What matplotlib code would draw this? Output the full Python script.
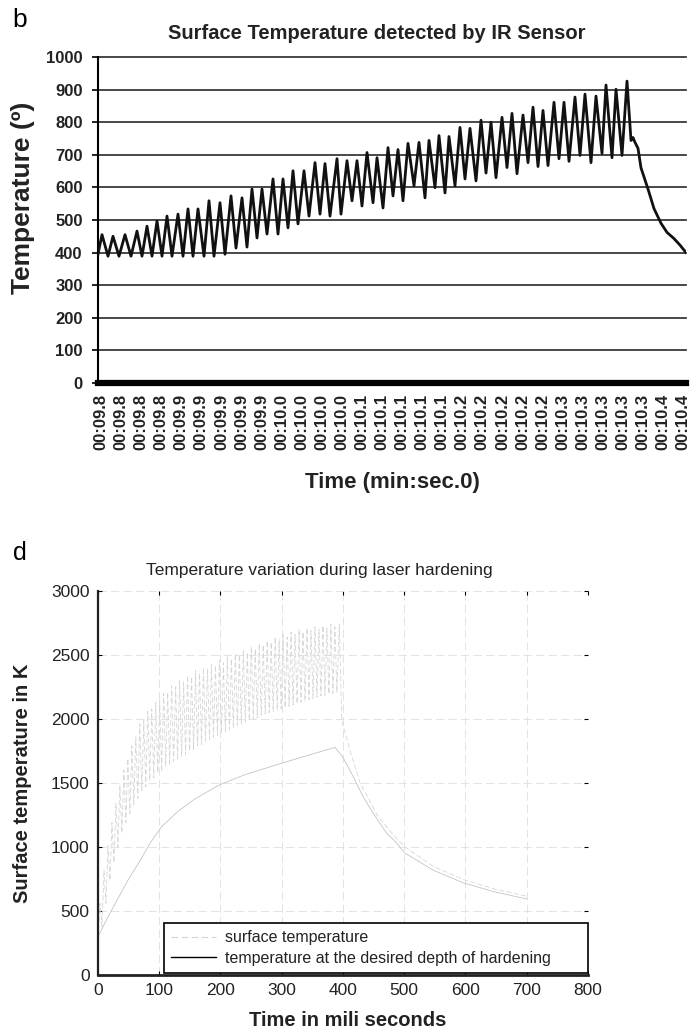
import matplotlib
matplotlib.use('Agg')
import matplotlib.pyplot as plt
import numpy as np
from matplotlib.lines import Line2D

# --- panel b: IR sensor trace (sample index vs temperature) ---
ir_sample = [0, 4, 10, 15, 21, 27, 33, 39, 44, 49, 54, 59, 64, 69, 74, 80, 85, 90, 95,
             100, 106, 111, 116, 122, 127, 133, 138, 144, 149, 154, 159, 164, 169, 175,
             180, 185, 190, 195, 200, 206, 211, 217, 222, 227, 232, 239, 243, 249, 254,
             259, 264, 269, 275, 279, 285, 290, 295, 300, 305, 310, 316, 321, 327, 331,
             337, 341, 347, 351, 357, 362, 367, 372, 378, 383, 388, 393, 398, 404, 409,
             414, 419, 425, 430, 435, 440, 445, 450, 456, 461, 466, 471, 477, 482, 487,
             493, 498, 504, 508, 514, 518, 524, 529, 533, 535, 537, 540, 543, 550, 556,
             563, 569, 576, 582, 588]
ir_temp = [395, 455, 389, 450, 389, 455, 389, 466, 389, 481, 389, 497, 389, 512, 389,
           518, 389, 534, 389, 534, 389, 559, 389, 553, 395, 574, 414, 568, 417, 595,
           445, 595, 457, 626, 457, 626, 476, 651, 488, 651, 512, 676, 518, 673, 512,
           688, 518, 682, 559, 682, 543, 707, 553, 691, 537, 722, 574, 716, 559, 735,
           605, 738, 568, 744, 599, 759, 583, 756, 605, 784, 626, 781, 620, 806, 644,
           800, 630, 815, 661, 827, 642, 822, 676, 846, 664, 836, 667, 861, 688, 861,
           680, 877, 698, 886, 676, 880, 704, 914, 691, 901, 698, 926, 744, 753, 738,
           720, 660, 595, 535, 490, 462, 443, 423, 400]
time_labels = (['00:09.8'] * 4 + ['00:09.9'] * 5 + ['00:10.0'] * 4 + ['00:10.1'] * 5 +
               ['00:10.2'] * 5 + ['00:10.3'] * 5 + ['00:10.4'] * 2)

# --- panel d: simulated laser hardening (ms vs K) ---
pulse_period = 6.5  # ms between laser pulses
surf_peak = [560, 820, 1010, 1190, 1340, 1480, 1600, 1690, 1790, 1860,
             1960, 1990, 2060, 2080, 2130, 2140, 2200, 2210, 2260, 2250,
             2300, 2290, 2340, 2330, 2380, 2360, 2400, 2390, 2430, 2420,
             2460, 2440, 2490, 2470, 2510, 2500, 2540, 2520, 2570, 2550,
             2590, 2580, 2610, 2600, 2640, 2620, 2660, 2640, 2680, 2660,
             2700, 2680, 2710, 2690, 2720, 2700, 2730, 2710, 2740, 2720]
surf_trough = [380, 560, 740, 880, 1000, 1110, 1190, 1260, 1330, 1380,
               1440, 1470, 1520, 1540, 1580, 1590, 1630, 1640, 1670, 1680,
               1710, 1720, 1750, 1760, 1790, 1800, 1830, 1840, 1860, 1870,
               1890, 1900, 1920, 1930, 1950, 1960, 1980, 1990, 2000, 2010,
               2030, 2040, 2050, 2060, 2070, 2080, 2090, 2100, 2110, 2120,
               2130, 2140, 2150, 2160, 2170, 2180, 2185, 2195, 2200, 2210]
surf_cool_t = [394, 398, 411, 428, 457, 485, 501, 547, 597, 649, 700]
surf_cool_v = [2740, 1990, 1760, 1500, 1240, 1080, 1000, 850, 745, 670, 615]

depth_t = [0, 17, 34, 50, 67, 85, 104, 131, 158, 198, 240, 300, 340, 387,
           400, 417, 433, 449, 471, 485, 501, 547, 597, 649, 700]
depth_v = [300, 460, 610, 750, 880, 1030, 1160, 1280, 1375, 1485, 1565, 1655, 1712, 1779,
           1700, 1547, 1391, 1266, 1109, 1045, 953, 820, 719, 648, 594]

plt.rcParams['font.family'] = ['Liberation Sans', 'DejaVu Sans']

W, H = 696, 1032
fig = plt.figure(figsize=(W / 100, H / 100), dpi=100)


def box(l, t, r, b):
    return [l / W, 1 - b / H, (r - l) / W, (b - t) / H]


# ---------------- panel b ----------------
ax1 = fig.add_axes(box(98, 57, 686, 383))
ax1.plot(ir_sample, ir_temp, color='#111111', lw=2.0, solid_joinstyle='round', zorder=3)
ax1.set_xlim(0, 588)
ax1.set_ylim(0, 1000)
ax1.set_yticks(np.arange(0, 1001, 100))
ax1.grid(axis='y', color='#3a3a3a', lw=1.3)
for gl in ax1.get_ygridlines():
    gl.set_clip_on(False)
ax1.set_axisbelow(True)
for s in ['top', 'right']:
    ax1.spines[s].set_visible(False)
ax1.spines['left'].set_linewidth(1.5)
ax1.spines['bottom'].set_linewidth(4.5)
ax1.set_xticks(np.linspace(3, 585, len(time_labels)))
ax1.set_xticklabels(time_labels, rotation=90, fontsize=12, fontweight='bold', color='#222222')
ax1.tick_params(axis='x', length=0, pad=8)
ax1.tick_params(axis='y', direction='out', length=4, width=1.2, pad=7, labelsize=12)
for t in ax1.get_yticklabels():
    t.set_fontweight('bold')
    t.set_color('#222222')

fig.text(12 / W, 1 - 27 / H, 'b', fontsize=19, va='baseline')
fig.text(377 / W, 1 - 33 / H, 'Surface Temperature detected by IR Sensor',
         ha='center', va='center', fontsize=14.5, fontweight='bold', color='#222222')
fig.text(23 / W, 1 - 198 / H, 'Temperature (º)', rotation=90, ha='center', va='center',
         fontsize=19, fontweight='bold', color='#222222')
fig.text(392 / W, 1 - 472 / H, 'Time (min:sec.0)', ha='center', va='top',
         fontsize=16, fontweight='bold', color='#222222')

# ---------------- panel d ----------------
n = len(surf_peak)
peak_t = pulse_period * (np.arange(n) + 0.5)
trough_t = pulse_period * (np.arange(n) + 1)
surf_t = np.concatenate([[0], np.column_stack([peak_t, trough_t]).ravel(), surf_cool_t])
surf_v = np.concatenate([[300], np.column_stack([surf_peak, surf_trough]).ravel(), surf_cool_v])

ax2 = fig.add_axes(box(98, 591, 588, 975))
ax2.plot(surf_t, surf_v, color='#d6d6d6', lw=0.6, ls=(0, (6, 3)))
ax2.plot(depth_t, depth_v, color='#c4c4c4', lw=0.6)
ax2.set_xlim(0, 800)
ax2.set_ylim(0, 3000)
ax2.set_xticks(np.arange(0, 801, 100))
ax2.set_yticks(np.arange(0, 3001, 500))
ax2.grid(True, color='#dedede', lw=0.6, ls=(0, (10, 5)))
for s in ['top', 'right']:
    ax2.spines[s].set_visible(False)
ax2.spines['left'].set_linewidth(1.6)
ax2.spines['left'].set_color('#222222')
ax2.spines['bottom'].set_linewidth(2.0)
ax2.spines['bottom'].set_color('#222222')
ax2.tick_params(direction='in', length=3, top=True, right=True, labelsize=12.5, pad=6,
                labelcolor='#222222')

handles = [Line2D([], [], color='#d2d2d2', lw=0.8, ls=(0, (6, 3))),
           Line2D([], [], color='black', lw=1.0)]
leg = ax2.legend(handles, ['surface temperature', 'temperature at the desired depth of hardening'],
                 loc='lower left', bbox_to_anchor=(0.1347, 0.005, 0.8653, 0.136), mode='expand',
                 borderaxespad=0, fontsize=11.5, handlelength=2.8, handletextpad=0.6,
                 labelspacing=0.35, borderpad=0.45, fancybox=False, edgecolor='black',
                 framealpha=1)
leg.get_frame().set_linewidth(1.2)
for t in leg.get_texts():
    t.set_color('#222222')

fig.text(13 / W, 1 - 560 / H, 'd', fontsize=18, va='baseline')
fig.text(319 / W, 1 - 570 / H, 'Temperature variation during laser hardening',
         ha='center', va='center', fontsize=12.5, color='#222222')
fig.text(23 / W, 1 - 783 / H, 'Surface temperature in K', rotation=90, ha='center',
         va='center', fontsize=14.5, fontweight='bold', color='#222222')
fig.text(348 / W, 1 - 1021 / H, 'Time in mili seconds', ha='center', va='center',
         fontsize=14.5, fontweight='bold', color='#222222')

fig.savefig('out.png', dpi=100)
